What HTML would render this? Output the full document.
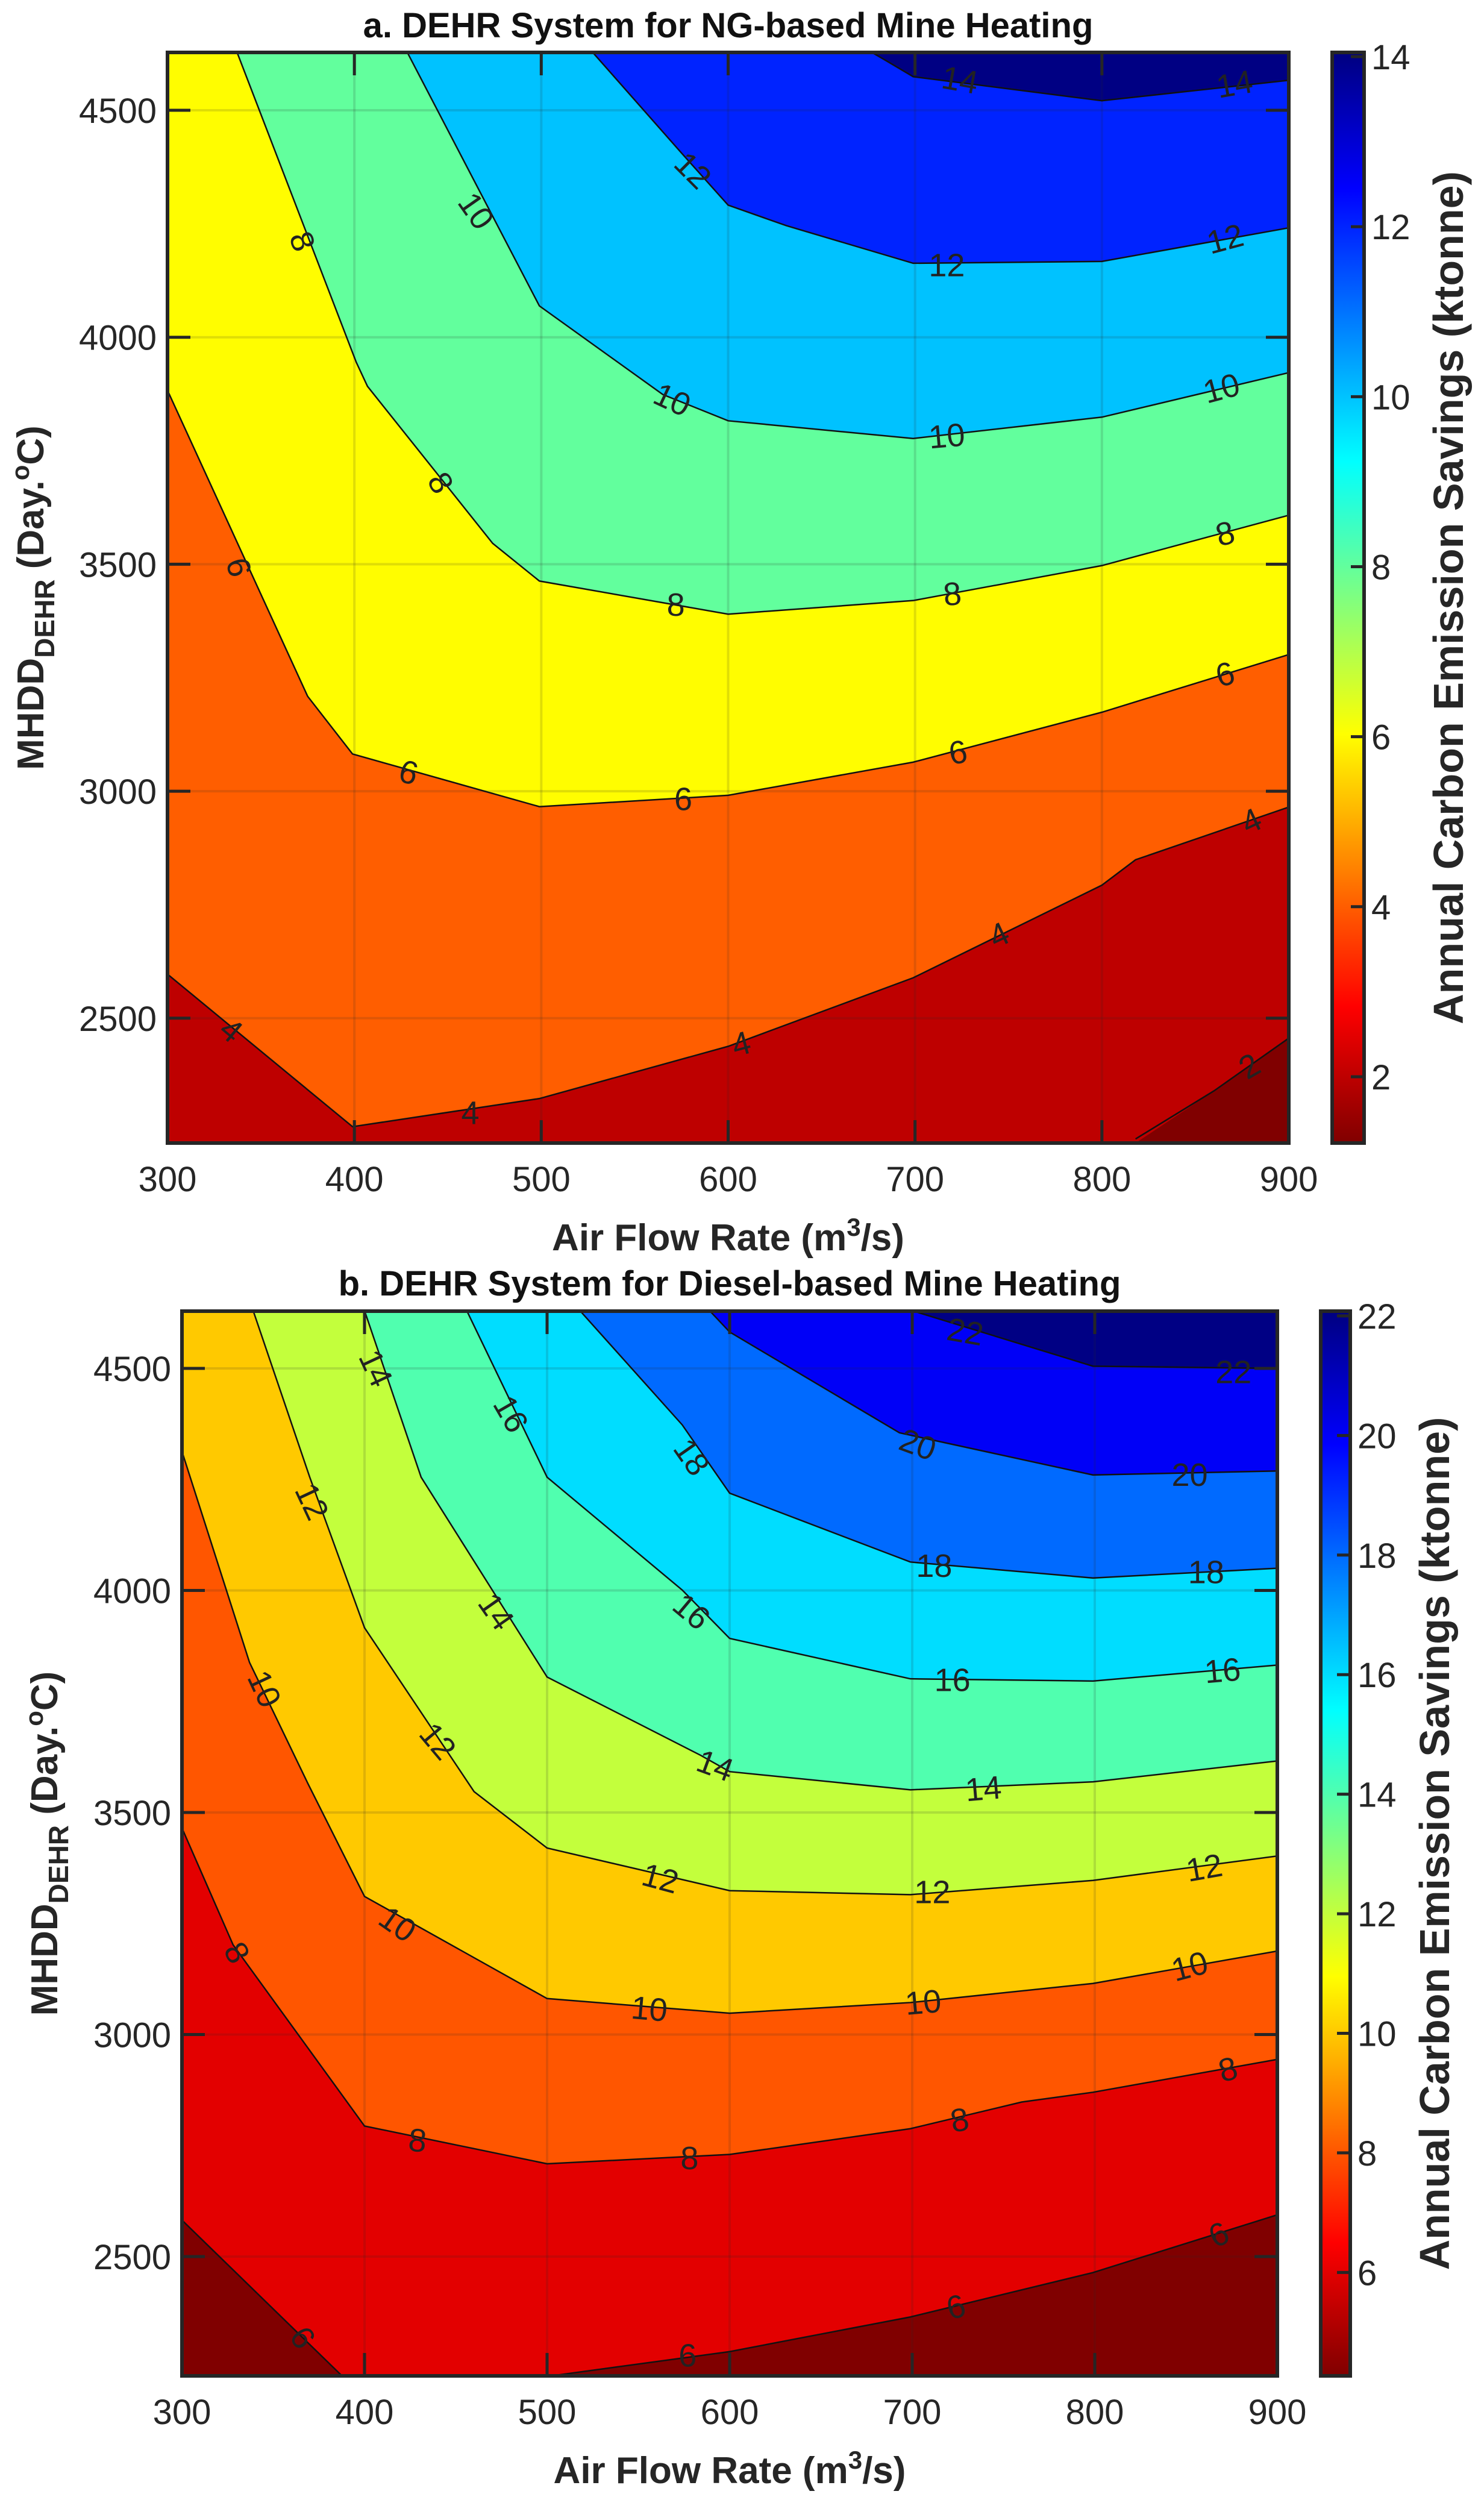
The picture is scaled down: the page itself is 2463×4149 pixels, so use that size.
<!DOCTYPE html>
<html><head><meta charset="utf-8"><style>
html,body{margin:0;padding:0;background:#fff;}
svg{display:block;font-family:"Liberation Sans",Arial,sans-serif;}
</style></head><body>
<svg id="fig" width="2463" height="4149" viewBox="0 0 2463 4149" xmlns="http://www.w3.org/2000/svg"></svg>
<script>
// ---------- data: plot a (NG) ----------
const aLevels = [2,4,6,8,10,12,14];
const aLine2  = [[[818,2234],[860,2340],[900,2456]]];
const aLine4  = [[[300,2597],[399,2261],[499,2323],[600,2438],[699,2589],[800,2793],[818,2849],[900,2965]]];
const aLine6  = [[[300,3883],[375,3209],[399,3082],[499,2966],[600,2991],[699,3064],[800,3174],[900,3301]]];
const aLine8  = [[[337,4630],[401,3945],[407,3892],[474,3546],[499,3463],[600,3390],[699,3420],[800,3497],[900,3608]]];
const aLine10 = [[[428,4630],[499,4069],[565,3874],[600,3816],[699,3777],[800,3824],[900,3922]]];
const aLine12 = [[[527,4630],[575,4406],[600,4291],[631,4246],[699,4163],[800,4167],[900,4241]]];
const aLine14 = [[[676,4630],[699,4574],[800,4521],[900,4566]]];
const aLabels = [[14,724,4566,10],[14,871,4557,-10],[12,581,4367,45],[12,717,4158,0],[12,866,4216,-15],
 [10,465,4278,55],[10,570,3862,25],[10,717,3782,-5],[10,864,3887,-15],
 [8,372,4211,70],[8,446,3679,60],[8,572,3410,0],[8,720,3434,-5],[8,866,3567,-15],
 [6,338,3493,75],[6,429,3041,15],[6,576,2982,0],[6,723,3085,-10],[6,866,3257,-15],
 [4,334,2473,40],[4,462,2291,0],[4,607,2443,-15],[4,745,2683,-25],[4,880,2934,-25],[2,879,2394,-30]];
const aCbarTicks = [2,4,6,8,10,12,14];
const aCRange = [1.22,14.05];
// ---------- data: plot b (Diesel) ----------
const bLevels = [6,8,10,12,14,16,18,20,22];
const bLine6  = [[[300,2582],[388,2230]],[[500,2230],[600,2286],[699,2364],[799,2464],[900,2594]]];
const bLine8  = [[[300,3465],[328,3202],[400,2794],[500,2709],[600,2730],[699,2788],[760,2848],[799,2870],[900,2944]]];
const bLine10 = [[[300,4313],[337,3838],[369,3565],[400,3311],[500,3081],[600,3048],[699,3072],[799,3115],[900,3188]]];
const bLine12 = [[[339,4630],[370,4255],[400,3916],[460,3547],[500,3420],[600,3324],[699,3315],[799,3347],[900,3402]]];
const bLine14 = [[[400,4630],[431,4255],[500,3805],[584,3629],[600,3592],[699,3551],[799,3569],[900,3616]]];
const bLine16 = [[[456,4630],[500,4255],[574,4001],[600,3892],[699,3801],[799,3796],[900,3832]]];
const bLine18 = [[[518,4630],[574,4373],[600,4219],[699,4064],[799,4028],[900,4050]]];
const bLine20 = [[[589,4630],[600,4582],[693,4355],[799,4260],[900,4269]]];
const bLine22 = [[[700,4630],[799,4505],[900,4500]]];
const bLabels = [[22,729,4582,10],[22,876,4491,0],[20,703,4328,20],[20,852,4260,0],
 [18,579,4300,55],[18,712,4055,0],[18,861,4041,0],[16,480,4397,60],[16,579,3952,40],[16,722,3798,0],[16,870,3819,-5],
 [14,406,4500,65],[14,472,3952,55],[14,592,3605,20],[14,739,3553,-5],
 [12,371,4200,65],[12,440,3660,50],[12,562,3351,15],[12,711,3320,0],[12,860,3375,-10],
 [10,345,3778,65],[10,418,3248,35],[10,556,3057,5],[10,706,3072,-5],[10,852,3153,-15],
 [8,330,3184,60],[8,429,2761,5],[8,578,2721,0],[8,726,2807,-10],[8,873,2921,-15],
 [6,366,2317,55],[6,577,2277,0],[6,724,2386,-15],[6,868,2549,-25]];
const bCbarTicks = [6,8,10,12,14,16,18,20,22];
const bCRange = [4.27,22.08];
const xTicks = [300,400,500,600,700,800,900];
const yTicks = [2500,3000,3500,4000,4500];

const NS="http://www.w3.org/2000/svg";
const svg=document.getElementById('fig');
function mk(tag,attrs,parent){const e=document.createElementNS(NS,tag);for(const k in attrs)e.setAttribute(k,attrs[k]);(parent||svg).appendChild(e);return e;}
function cl(v){return Math.max(0,Math.min(1,v));}
function jet(x){return [cl(Math.min(4*x-1.5,-4*x+4.5)),cl(Math.min(4*x-0.5,-4*x+3.5)),cl(Math.min(4*x+0.5,-4*x+2.5))];}
function cmap(v,r){const t=(v-r[0])/(r[1]-r[0]);const c=jet(1-t);return 'rgb('+c.map(q=>Math.round(q*255)).join(',')+')';}

function plot(cfg){
  const {L,R,T,B,y0,yPer,levels,lines,labels,crange,cb,cticks,title,titleY,id}=cfg;
  const xs=v=>L+(v-300)/600*(R-L);
  const ys=v=>y0+(4500-v)*yPer;
  const g=mk('g',{});
  
  
  const cp=mk('clipPath',{id:id+'clip'},g);mk('rect',{x:L,y:T,width:R-L,height:B-T},cp);
  const area=mk('g',{'clip-path':'url(#'+id+'clip)'},g);
  
  
  const bg=mk('rect',{x:L,y:T,width:R-L,height:B-T,fill:cmap(levels[levels.length-1],crange)},area);
  
  
  function sParam(p){const d=[p[0]-L,p[1]-T,R-p[0],B-p[1]];const m=d.indexOf(Math.min(...d));
    if(m===0)return [(B-p[1])/(B-T),[L,p[1]]];
    if(m===1)return [1+(p[0]-L)/(R-L),[p[0],T]];
    if(m===2)return [2+(p[1]-T)/(B-T),[R,p[1]]];
    return [3+(R-p[0])/(R-L),[p[0],B]];}
  const corners=[[L,B],[L,T],[R,T],[R,B]];
  const md=v=>((v%4)+4)%4;
  for(let i=levels.length-1;i>=0;i--){
    const col=i>0?cmap(levels[i-1],crange):cmap(crange[0],crange);
    lines[i].forEach(seg=>{
      const pts=seg.map(p=>[xs(p[0]),ys(p[1])]);
      const [sA,pa]=sParam(pts[0]);const [sB,pb]=sParam(pts[pts.length-1]);
      pts[0]=pa;pts[pts.length-1]=pb;
      const dcw=md(sA-sB);const cwHasTR=md(2-sB)<dcw;
      const cs=[];
      for(let k=0;k<4;k++){
        if(!cwHasTR){const d=md(k-sB);if(d>0&&d<dcw)cs.push([d,corners[k]]);}
        else{const d=md(sB-k);if(d>0&&d<md(sB-sA))cs.push([d,corners[k]]);}
      }
      cs.sort((a,b)=>a[0]-b[0]);
      const poly=pts.concat(cs.map(c=>c[1]));
      const pg=mk('polygon',{points:poly.map(p=>p.join(',')).join(' '),fill:col},area);
      
      
    });
  }
  xTicks.forEach(v=>{mk('line',{x1:xs(v),x2:xs(v),y1:T,y2:B,stroke:'rgba(40,40,40,0.15)','stroke-width':4},area);});
  yTicks.forEach(v=>{mk('line',{x1:L,x2:R,y1:ys(v),y2:ys(v),stroke:'rgba(40,40,40,0.15)','stroke-width':4},area);});
  levels.forEach((lv,i)=>{lines[i].forEach(seg=>{
    const pl=mk('polyline',{points:seg.map(p=>xs(p[0])+','+ys(p[1])).join(' '),fill:'none',stroke:'#111','stroke-width':2.5},area);
    
    
  });});
  labels.forEach(l=>{
    const t=mk('text',{x:xs(l[1]),y:ys(l[2]),'font-size':54,fill:'#222','text-anchor':'middle','dominant-baseline':'central',transform:'rotate('+l[3]+' '+xs(l[1])+' '+ys(l[2])+')'},area);
    t.textContent=l[0];
    
    
  });
  xTicks.forEach(v=>{const x=xs(v);
    mk('line',{x1:x,x2:x,y1:B,y2:B-38,stroke:'#262626','stroke-width':5},g);
    mk('line',{x1:x,x2:x,y1:T,y2:T+38,stroke:'#262626','stroke-width':5},g);
    const t=mk('text',{x:x,y:B+80,'font-size':58,fill:'#262626','text-anchor':'middle'},g);t.textContent=v;
    
    });
  yTicks.forEach(v=>{const y=ys(v);
    mk('line',{x1:L,x2:L+38,y1:y,y2:y,stroke:'#262626','stroke-width':5},g);
    mk('line',{x1:R,x2:R-38,y1:y,y2:y,stroke:'#262626','stroke-width':5},g);
    const t=mk('text',{x:L-18,y:y+21,'font-size':58,fill:'#262626','text-anchor':'end'},g);t.textContent=v;
    
    });
  const bx=mk('rect',{x:L,y:T,width:R-L,height:B-T,fill:'none',stroke:'#262626','stroke-width':6},g);
  
  
  const tt=mk('text',{x:(L+R)/2,y:titleY,'font-size':58,'font-weight':'bold',fill:'#111','text-anchor':'middle'},g);tt.textContent=title;
  
  
  const xl=mk('text',{x:(L+R)/2,y:B+178,'font-size':62,'font-weight':'bold',fill:'#262626','text-anchor':'middle'},g);
  xl.innerHTML='Air Flow Rate (m<tspan dy="-24" font-size="42">3</tspan><tspan dy="24">/s)</tspan>';
  
  
  const ylx=cfg.ylx, yly=(T+B)/2;
  const yl=mk('text',{x:ylx,y:yly,'font-size':62,'font-weight':'bold',fill:'#262626','text-anchor':'middle',transform:'rotate(-90 '+ylx+' '+yly+')'},g);
  yl.innerHTML='MHDD<tspan dy="18" font-size="46">DEHR</tspan><tspan dy="-18"> (Day.</tspan><tspan dy="-24" font-size="42">o</tspan><tspan dy="24">C)</tspan>';
  
  
  const cbs=v=>B-(v-crange[0])/(crange[1]-crange[0])*(B-T);
  const gr=mk('linearGradient',{id:id+'grad',x1:0,y1:1,x2:0,y2:0},g);
  for(let k=0;k<=40;k++){const v=crange[0]+(crange[1]-crange[0])*k/40;mk('stop',{offset:k/40,'stop-color':cmap(v,crange)},gr);}
  const cr=mk('rect',{x:cb[0],y:T,width:cb[1]-cb[0],height:B-T,fill:'url(#'+id+'grad)',stroke:'#262626','stroke-width':6},g);
  
  
  cticks.forEach(v=>{const y=cbs(v);
    mk('line',{x1:cb[1],x2:cb[1]-22,y1:y,y2:y,stroke:'#262626','stroke-width':5},g);
    const t=mk('text',{x:cb[1]+12,y:y+21,'font-size':58,fill:'#262626'},g);t.textContent=v;
    
    });
  const cx=cfg.cblx;
  const ct=mk('text',{x:cx,y:yly,'font-size':70,'font-weight':'bold',fill:'#262626','text-anchor':'middle',transform:'rotate(-90 '+cx+' '+yly+')'},g);
  ct.textContent='Annual Carbon Emission Savings (ktonne)';
  
  
}
plot({id:'a',L:278,R:2139,T:87,B:1897,y0:183,yPer:0.7534,levels:aLevels,
  lines:[aLine2,aLine4,aLine6,aLine8,aLine10,aLine12,aLine14],labels:aLabels,crange:aCRange,
  cb:[2211,2264],cticks:aCbarTicks,title:'a. DEHR System for NG-based Mine Heating',titleY:62,ylx:72,cblx:2428});
plot({id:'b',L:302,R:2120,T:2176,B:3943,y0:2271,yPer:0.737,levels:bLevels,
  lines:[bLine6,bLine8,bLine10,bLine12,bLine14,bLine16,bLine18,bLine20,bLine22],labels:bLabels,crange:bCRange,
  cb:[2192,2241],cticks:bCbarTicks,title:'b. DEHR System for Diesel-based Mine Heating',titleY:2150,ylx:95,cblx:2405});
</script>
</body></html>
